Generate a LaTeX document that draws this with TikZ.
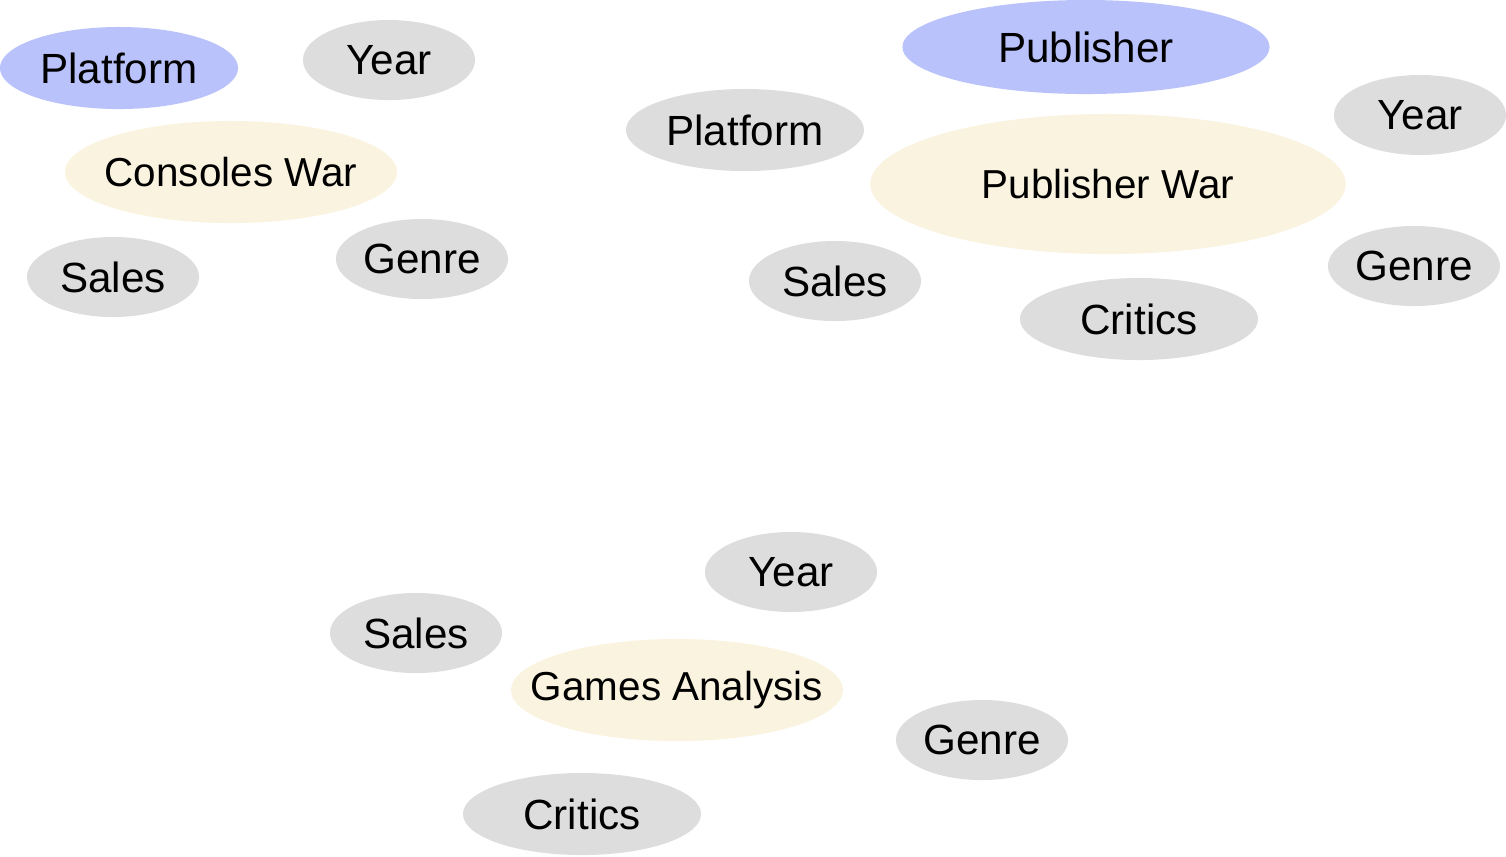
\documentclass[tikz,border=0pt]{standalone}
\usepackage{fontspec}
\setmainfont{Liberation Sans}
\usetikzlibrary{shapes.geometric}

\definecolor{pickblue}{HTML}{BAC2FB}
\definecolor{fieldgray}{HTML}{DDDDDD}
\definecolor{topiccream}{HTML}{FAF3DF}

\tikzset{
	bubble/.style={ellipse, inner sep=0pt, font=\fontsize{12}{14}\selectfont},
	field/.style={bubble, fill=fieldgray, minimum width=1.72cm, minimum height=0.8cm},
	longfield/.style={bubble, fill=fieldgray, minimum width=2.38cm, minimum height=0.82cm},
	picked/.style={bubble, fill=pickblue},
	topic/.style={bubble, fill=topiccream, minimum width=3.32cm, minimum height=1.02cm,
		label={[font=\fontsize{11.5}{14}\selectfont]center:#1}},
}

\begin{document}
\begin{tikzpicture}[x=0.01cm, y=-0.01cm]
	\useasboundingbox (0,0) rectangle (1506,856);
	
	%consoles war
	\node[picked, minimum width=2.38cm, minimum height=0.82cm] (platA) at (119,68) 	{Platform};
	\node[field] (yearA) at (389,60) 		{Year};
	\node[topic={Consoles War}] (warA) at (231,172) 	{};
	\node[field] (salesA) at (113,277) 		{Sales};
	\node[field] (genreA) at (422,259) 		{Genre};
	
	%publisher war
	\node[picked, minimum width=3.67cm, minimum height=0.94cm] (pubB) at (1086,47) 	{Publisher};
	\node[longfield] (platB) at (745,130) 	{Platform};
	\node[field] (yearB) at (1420,115) 		{Year};
	\node[topic={Publisher War}, minimum width=4.75cm, minimum height=1.4cm] (warB) at (1108,184) 	{};
	\node[field] (salesB) at (835,281) 		{Sales};
	\node[field] (genreB) at (1414,266) 	{Genre};
	\node[longfield] (critB) at (1139,319) 	{Critics};
	
	%games analysis
	\node[field] (yearC) at (791,572) 		{Year};
	\node[field] (salesC) at (416,633) 		{Sales};
	\node[topic={Games Analysis}] (gamesC) at (677,690) 	{};
	\node[field] (genreC) at (982,740) 		{Genre};
	\node[longfield] (critC) at (582,814) 	{Critics};
\end{tikzpicture}
\end{document}
